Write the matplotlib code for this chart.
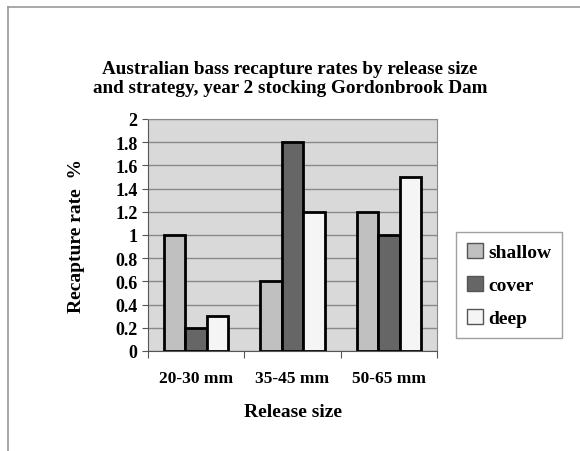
import matplotlib
matplotlib.use("Agg")
import matplotlib.pyplot as plt
import numpy as np

# data
categories = ["20-30 mm", "35-45 mm", "50-65 mm"]
shallow = [1.0, 0.6, 1.2]
cover = [0.2, 1.8, 1.0]
deep = [0.3, 1.2, 1.5]
series_names = ["shallow", "cover", "deep"]
colors = ["#c0c0c0", "#666666", "#f5f5f5"]

plt.rcParams['font.family'] = ['Liberation Serif', 'DejaVu Serif']
plt.rcParams['font.weight'] = 'bold'

fig = plt.figure(figsize=(5.8, 4.52), dpi=100)
ax = fig.add_axes([148 / 580, 1 - 352 / 452, (437 - 148) / 580, (352 - 120) / 452])

# outer chart frame (left and top edges visible)
fig.add_artist(plt.Line2D([7.5 / 580, 7.5 / 580], [0, 1 - 7.5 / 452], color="#999999", lw=1.2))
fig.add_artist(plt.Line2D([7.5 / 580, 1], [1 - 7.5 / 452, 1 - 7.5 / 452], color="#999999", lw=1.2))

x = np.arange(len(categories))
w = 0.222
for i, (vals, name) in enumerate(zip([shallow, cover, deep], series_names)):
    ax.bar(x + (i - 1) * w, vals, w, color=colors[i], edgecolor="black",
           linewidth=2, label=name, zorder=3)

ax.set_facecolor("#d9d9d9")
ax.set_xlim(-0.5, 2.5)
ax.set_ylim(0, 2)
ax.set_yticks(np.arange(0, 2.01, 0.2))
ax.set_yticklabels(["0", "0.2", "0.4", "0.6", "0.8", "1", "1.2", "1.4", "1.6", "1.8", "2"])
ax.yaxis.grid(True, color="#888888", lw=1, zorder=0)
ax.set_axisbelow(True)

ax.set_xticks([-0.5, 0.5, 1.5, 2.5])
ax.set_xticklabels([])
ax.set_xticks(x, minor=True)
ax.set_xticklabels(categories, minor=True, fontsize=12.5, fontweight="bold")
ax.tick_params(axis="x", which="minor", length=0, pad=14)
ax.tick_params(axis="x", which="major", length=5, color="#555555")
ax.tick_params(axis="y", labelsize=13, length=4, color="#555555")

for s in ["top", "right"]:
    ax.spines[s].set_color("#888888")
for s in ["left", "bottom"]:
    ax.spines[s].set_color("#555555")

ax.set_xlabel("Release size", fontsize=14, fontweight="bold", labelpad=12)
ax.set_ylabel("Recapture rate  %", fontsize=14, fontweight="bold", labelpad=22)
fig.text(0.5, 1 - 79 / 452,
         "Australian bass recapture rates by release size\nand strategy, year 2 stocking Gordonbrook Dam",
         ha="center", va="center", fontsize=13.8, fontweight="bold", linespacing=1.15)

leg = ax.legend(loc="center left", bbox_to_anchor=(456 / 580, 1 - 286 / 452),
                bbox_transform=fig.transFigure, fontsize=14, frameon=True,
                fancybox=False, edgecolor="#888888", handlelength=0.85,
                handleheight=0.85, handletextpad=0.25, labelspacing=0.75,
                borderpad=0.55, borderaxespad=0)
for p in leg.get_patches():
    p.set_linewidth(1)
    p.set_edgecolor("#555555")

fig.savefig("out.png", dpi=100)
